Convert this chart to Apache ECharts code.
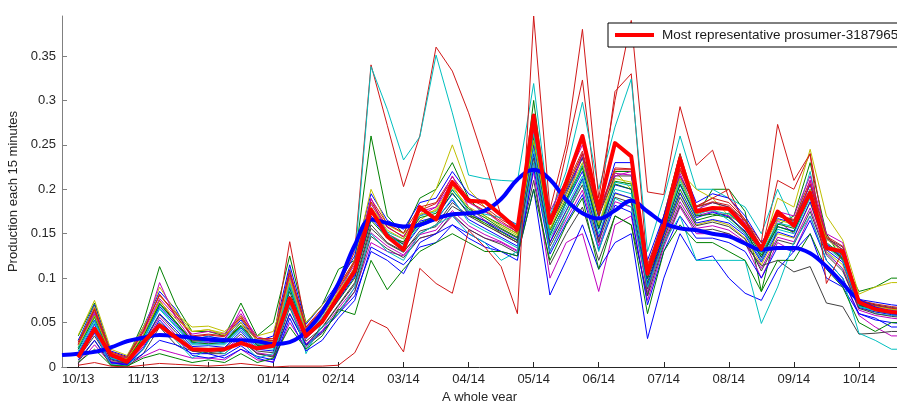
<!DOCTYPE html>
<html>
<head>
<meta charset="utf-8">
<script src="https://cdn.jsdelivr.net/npm/echarts@6/dist/echarts.min.js"></script>
<style>
  html, body { margin: 0; padding: 0; background: #fff; }
  #chart { width: 897px; height: 401px; }
</style>
</head>
<body>
<div id="chart"></div>
<script>
// weekly points, index 1 = 10/13, ticks every 4 points
var monthLabels = ['10/13', '11/13', '12/13', '01/14', '02/14', '03/14', '04/14',
	'05/14', '06/14', '07/14', '08/14', '09/14', '10/14'];
var monthTicks = [1, 5, 9, 13, 17, 21, 25, 29, 33, 37, 41, 45, 49];
var yTicks = [0, 0.05, 0.1, 0.15, 0.2, 0.25, 0.3, 0.35];

var representativeName = 'Most representative prosumer-3187965';

// thick red line, index 1..52
var representative = [
	0.011, 0.043, 0.014, 0.006, 0.028, 0.047, 0.033, 0.020,
	0.019, 0.020, 0.027, 0.021, 0.024, 0.077, 0.035, 0.051,
	0.080, 0.108, 0.177, 0.147, 0.132, 0.180, 0.166, 0.208,
	0.187, 0.186, 0.171, 0.155, 0.283, 0.162, 0.208, 0.260,
	0.178, 0.252, 0.237, 0.105, 0.158, 0.234, 0.175, 0.179,
	0.178, 0.158, 0.133, 0.175, 0.159, 0.196, 0.134, 0.130,
	0.073, 0.065, 0.062, 0.060
];

// thick blue smoothed line, index 0..52
var smoothed = [
	0.0135, 0.015, 0.017, 0.022, 0.029, 0.033, 0.036, 0.035, 0.033, 0.031,
	0.030, 0.030, 0.029, 0.026, 0.028, 0.040, 0.062, 0.094, 0.137, 0.166,
	0.162, 0.158, 0.160, 0.167, 0.172, 0.173, 0.176, 0.189, 0.211, 0.222,
	0.211, 0.188, 0.173, 0.167, 0.176, 0.187, 0.175, 0.162, 0.156, 0.154,
	0.150, 0.147, 0.139, 0.132, 0.134, 0.134, 0.128, 0.113, 0.094, 0.075,
	0.066, 0.062, 0.060
];

// the other prosumers, index 1..52
var p01 = [.035,.072,.015,.010, .050,.113,.070,.040, .040,.035,.072,.035, .050,.125,.050,.070,
	.110,.120,.260,.170, .150,.190,.200,.230, .190,.170,.160,.150, .300,.160,.200,.260,
	.140,.220,.220,.080, .170,.240,.170,.200, .200,.175,.085,.160, .170,.230,.150,.120, .085,.090,.100,.100];
var p02 = [.025,.065,.012,.005, .035,.075,.050,.030, .030,.028,.050,.025, .030,.141,.045,.060,
	.090,.130,.340,.272, .203,.260,.360,.333, .286,.230,.170,.150, .260,.160,.240,.323,
	.170,.310,.330,.110, .170,.240,.180,.190, .200,.160,.130,.210, .200,.240,.140,.120, .075,.070,.065,.063];
var p03 = [.030,.060,.010,.003, .030,.070,.050,.030, .035,.030,.050,.030, .025,.110,.015,.050,
	.080,.120,.338,.290, .233,.259,.351,.286, .216,.212,.210,.209, .319,.170,.220,.298,
	.200,.270,.324,.130, .190,.260,.200,.200, .190,.180,.150,.200, .160,.220,.130,.110, .070,.060,.058,.056];
var p04 = [.030,.070,.018,.012, .045,.085,.065,.032, .034,.032,.053,.029, .035,.115,.048,.070,
	.095,.125,.195,.165, .155,.185,.190,.220, .195,.185,.170,.160, .280,.163,.198,.236,
	.168,.230,.230,.120, .170,.230,.185,.195, .190,.170,.140,.167, .162,.205,.144,.132, .076,.073,.070,.068];
var p05 = [.036,.075,.020,.013, .045,.080,.060,.045, .046,.040,.055,.035, .040,.100,.050,.070,
	.090,.120,.200,.160, .150,.170,.200,.250, .200,.180,.160,.150, .250,.150,.200,.240,
	.160,.220,.200,.100, .160,.220,.200,.190, .170,.160,.130,.190, .180,.245,.170,.143, .082,.090,.095,.095];
var p06 = [.025,.062,.015,.010, .039,.077,.057,.037, .040,.037,.060,.034, .029,.103,.042,.062,
	.087,.115,.183,.157, .147,.175,.180,.208, .185,.175,.162,.152, .266,.175,.210,.250,
	.180,.218,.216,.110, .162,.218,.177,.185, .180,.162,.132,.175, .170,.215,.150,.140, .073,.069,.066,.064];
var p07 = [.028,.066,.017,.011, .042,.081,.061,.035, .037,.035,.057,.032, .032,.109,.045,.066,
	.091,.120,.189,.161, .151,.180,.185,.214, .190,.180,.166,.156, .273,.169,.204,.243,
	.174,.224,.223,.115, .166,.224,.181,.190, .185,.166,.136,.171, .166,.210,.147,.136, .075,.071,.068,.066];
var p08 = [.022,.056,.012,.008, .035,.071,.051,.029, .030,.029,.047,.026, .025,.085,.033,.050,
	.075,.100,.165,.145, .141,.168,.173,.199, .178,.168,.156,.146, .256,.154,.189,.226,
	.159,.209,.206,.095, .150,.200,.165,.170, .173,.156,.126,.161, .156,.198,.140,.126, .070,.066,.063,.061];
var p09 = [.020,.053,.011,.007, .032,.068,.048,.027, .027,.027,.044,.024, .022,.089,.035,.053,
	.078,.104,.170,.148, .138,.164,.169,.195, .174,.164,.153,.143, .250,.150,.185,.220,
	.155,.205,.200,.099, .153,.205,.168,.174, .169,.153,.123,.158, .153,.194,.138,.123, .069,.065,.062,.060];
var p10 = [.018,.050,.010,.006, .030,.065,.045,.025, .025,.025,.042,.022, .020,.094,.038,.056,
	.081,.108,.174,.151, .135,.160,.165,.190, .163,.153,.144,.134, .245,.145,.180,.215,
	.150,.200,.195,.103, .156,.209,.171,.178, .165,.150,.120,.155, .150,.190,.135,.120, .068,.063,.060,.058];
var p11 = [.012,.041,.006,.003, .023,.056,.036,.019, .018,.019,.034,.016, .013,.071,.026,.041,
	.066,.089,.151,.136, .126,.149,.154,.176, .159,.149,.141,.131, .229,.131,.166,.199,
	.136,.186,.180,.084, .141,.186,.156,.159, .154,.141,.111,.146, .141,.179,.128,.111, .064,.058,.055,.053];
var p12 = [.014,.044,.008,.004, .026,.059,.039,.021, .021,.021,.037,.018, .016,.076,.029,.044,
	.069,.093,.156,.139, .129,.153,.158,.181, .170,.160,.150,.140, .235,.136,.171,.205,
	.141,.191,.185,.088, .144,.191,.159,.163, .158,.144,.108,.143, .138,.175,.126,.108, .066,.060,.057,.055];
var p13 = [.004,.025,.004,.002, .012,.020,.015,.010, .010,.008,.020,.008, .006,.050,.022,.040,
	.060,.085,.140,.130, .125,.145,.150,.170, .155,.145,.140,.130, .220,.100,.140,.150,
	.085,.160,.170,.075, .135,.180,.150,.150, .150,.140,.100,.140, .130,.170,.120,.100, .058,.045,.035,.035];
var p14 = [.006,.030,.002,.000, .015,.045,.025,.018, .016,.018,.031,.015, .011,.067,.024,.038,
	.063,.085,.147,.133, .123,.145,.150,.172, .155,.145,.138,.128, .210,.115,.150,.180,
	.120,.170,.160,.080, .138,.182,.153,.155, .150,.138,.114,.120, .107,.113,.072,.068, .037,.038,.040,.040];
var p15 = [.011,.038,.005,.002, .021,.053,.033,.013, .010,.013,.024,.010, .005,.055,.018,.030,
	.055,.075,.135,.125, .115,.135,.140,.160, .145,.135,.130,.120, .224,.127,.162,.194,
	.132,.182,.174,.070, .130,.170,.145,.145, .140,.130,.100,.135, .130,.165,.120,.100, .060,.053,.050,.048];
var p16 = [.008,.030,.005,.003, .015,.030,.025,.015, .015,.010,.020,.012, .008,.060,.025,.040,
	.060,.080,.130,.120, .105,.140,.150,.160, .150,.140,.130,.125, .200,.081,.120,.160,
	.110,.140,.150,.032, .100,.150,.120,.125, .100,.083,.075,.110, .130,.150,.100,.090, .060,.055,.045,.045];
var p17 = [.015,.040,.003,.001, .020,.050,.030,.010, .020,.015,.030,.010, .015,.070,.020,.045,
	.060,.090,.150,.130, .120,.150,.160,.170, .150,.140,.120,.130, .230,.130,.170,.210,
	.130,.190,.180,.090, .140,.170,.120,.120, .120,.120,.049,.090, .140,.170,.120,.100, .038,.030,.020,.020];
var p18 = [.005,.020,.002,.001, .010,.015,.010,.005, .008,.005,.015,.005, .010,.045,.020,.035,
	.065,.059,.120,.087, .110,.130,.140,.150, .140,.130,.130,.125, .200,.120,.160,.190,
	.110,.170,.160,.060, .130,.160,.140,.140, .130,.120,.085,.120, .120,.150,.110,.090, .050,.040,.050,.050];
var p19 = [.002,.005,.001,.000, .002,.004,.003,.002, .001,.002,.004,.002, .000,.001,.001,.001,
	.002,.016,.053,.044, .017,.111,.094,.083, .154,.135,.113,.060, .395,.177,.250,.380,
	.190,.300,.390,.197, .194,.293,.227,.244, .190,.166,.140,.273, .210,.240,.094,.130, .072,.066,.063,.061];
var p20 = [.028,.068,.016,.011, .040,.090,.062,.040, .042,.038,.058,.032, .030,.100,.040,.060,
	.085,.118,.185,.150, .140,.165,.178,.205, .175,.160,.150,.140, .240,.140,.175,.210,
	.145,.195,.190,.090, .145,.195,.160,.165, .160,.145,.115,.150, .145,.185,.130,.115, .066,.062,.060,.058];
var p21 = [.010,.035,.006,.004, .020,.050,.035,.018, .015,.015,.030,.015, .012,.060,.025,.045,
	.070,.095,.160,.140, .130,.150,.160,.185, .170,.165,.155,.145, .255,.160,.195,.235,
	.170,.215,.215,.110, .165,.215,.180,.185, .180,.165,.135,.170, .165,.200,.145,.135, .074,.070,.067,.065];
var p22 = [.025,.060,.014,.008, .036,.095,.055,.030, .028,.030,.065,.028, .028,.095,.036,.055,
	.080,.110,.190,.150, .140,.170,.180,.215, .180,.165,.150,.140, .270,.140,.185,.240,
	.140,.215,.220,.090, .150,.215,.170,.175, .170,.150,.120,.165, .150,.210,.138,.125, .070,.065,.062,.060];
var p23 = [.016,.048,.009,.005, .028,.060,.042,.023, .024,.022,.040,.020, .018,.080,.032,.050,
	.076,.102,.168,.146, .134,.158,.166,.188, .166,.156,.146,.136, .240,.140,.176,.212,
	.146,.196,.190,.092, .148,.196,.162,.166, .162,.148,.118,.152, .146,.186,.132,.118, .067,.062,.059,.057];
var p24 = [.020,.058,.012,.008, .034,.072,.050,.028, .026,.028,.046,.024, .024,.090,.036,.054,
	.082,.112,.178,.150, .138,.162,.170,.196, .172,.162,.152,.142, .258,.148,.186,.224,
	.156,.206,.200,.100, .154,.206,.170,.172, .168,.152,.124,.158, .152,.192,.136,.122, .069,.064,.061,.059];
var p25 = [.022,.052,.010,.006, .032,.066,.046,.026, .030,.026,.045,.026, .022,.092,.036,.052,
	.078,.106,.176,.152, .144,.170,.175,.200, .176,.172,.168,.160, .262,.150,.184,.228,
	.160,.208,.204,.104, .158,.212,.174,.176, .172,.158,.128,.162, .158,.196,.140,.124, .068,.064,.061,.059];
var p26 = [.026,.064,.014,.009, .040,.082,.058,.034, .036,.034,.055,.030, .030,.106,.044,.064,
	.088,.118,.186,.158, .146,.176,.184,.210, .186,.176,.164,.152, .268,.164,.200,.240,
	.170,.222,.222,.112, .164,.222,.180,.186, .182,.164,.134,.170, .164,.206,.146,.132, .073,.069,.066,.064];
var p27 = [.024,.058,.013,.009, .036,.074,.054,.040, .042,.036,.050,.030, .028,.098,.040,.058,
	.084,.112,.180,.154, .144,.172,.176,.202, .180,.170,.158,.148, .255,.156,.192,.230,
	.160,.212,.208,.106, .160,.212,.172,.180, .176,.160,.130,.166, .160,.200,.144,.130, .072,.068,.065,.063];

var prosumers = [p01, p02, p03, p04, p05, p20, p06, p21, p07, p22, p08, p23, p09, p24,
	p10, p25, p11, p26, p12, p27, p13, p14, p15, p16, p17, p18, p19];
var prosumerColors = ['#008000', '#d01818', '#00bfbf', '#0000ff', '#bfbf00', '#bfbf00', '#bf00bf',
	'#404040', '#d01818', '#bf00bf', '#008000', '#0000ff', '#0000ff', '#008000',
	'#00bfbf', '#00bfbf', '#bf00bf', '#d01818', '#404040', '#bfbf00', '#bf00bf', '#404040',
	'#0000ff', '#0000ff', '#00bfbf', '#008000', '#d01818'];

var fontFamily = "'Liberation Sans', Arial, sans-serif";
var myChart = echarts.init(document.getElementById('chart'), null, { renderer: 'canvas' });

var series = [];
prosumers.forEach(function (arr, k) {
	series.push({
		name: 'prosumer' + (k + 1),
		type: 'line',
		data: arr.map(function (v, i) { return [i + 1, v]; }),
		symbol: 'none',
		silent: true,
		lineStyle: { color: prosumerColors[k], width: 1 },
		itemStyle: { color: prosumerColors[k] },
		z: 2
	});
});

series.push({
	name: 'smoothed',
	type: 'line',
	data: smoothed.map(function (v, i) { return [i, v]; }),
	smooth: 0.4,
	symbol: 'none',
	silent: true,
	lineStyle: { color: '#0000ff', width: 4 },
	itemStyle: { color: '#0000ff' },
	z: 3
});

series.push({
	name: representativeName,
	type: 'line',
	data: representative.map(function (v, i) { return [i + 1, v]; }),
	symbol: 'none',
	silent: true,
	lineStyle: { color: '#ff0000', width: 4, join: 'round' },
	itemStyle: { color: '#ff0000' },
	z: 4
});

var option = {
	animation: false,
	backgroundColor: '#fff',
	textStyle: { fontFamily: fontFamily },
	grid: {
		left: 62,
		right: 0,
		top: 16,
		bottom: 34,
		outerBoundsMode: 'none'
	},
	legend: {
		data: [{ name: representativeName, icon: 'rect' }],
		left: 608,
		top: 23,
		padding: [5, 8, 5, 7],
		itemWidth: 39,
		itemHeight: 4,
		itemGap: 0,
		borderColor: '#000',
		borderWidth: 1,
		backgroundColor: '#fff',
		selectedMode: false,
		textStyle: { fontFamily: fontFamily, fontSize: 13.5, color: '#1a1a1a', padding: [0, 0, 0, 3] },
		z: 10
	},
	xAxis: {
		type: 'value',
		min: 0,
		max: 51.34,
		name: 'A whole year',
		nameLocation: 'middle',
		nameGap: 21,
		nameTextStyle: { fontFamily: fontFamily, fontSize: 13, color: '#262626' },
		splitLine: { show: false },
		axisLine: { lineStyle: { color: '#262626', width: 1 } },
		axisTick: { inside: true, length: 5, customValues: monthTicks, lineStyle: { color: '#262626' } },
		axisLabel: {
			customValues: monthTicks,
			margin: 6,
			fontFamily: fontFamily,
			fontSize: 13,
			color: '#262626',
			formatter: function (v) {
				return monthLabels[Math.round((v - 1) / 4)];
			}
		}
	},
	yAxis: {
		type: 'value',
		min: 0,
		max: 0.395,
		name: 'Production each 15 minutes',
		nameLocation: 'middle',
		nameGap: 38,
		nameTextStyle: { fontFamily: fontFamily, fontSize: 13, color: '#262626' },
		splitLine: { show: false },
		axisLine: { show: true, lineStyle: { color: '#808080', width: 1 } },
		axisTick: { show: true, inside: true, length: 5, customValues: yTicks, lineStyle: { color: '#808080' } },
		axisLabel: {
			customValues: yTicks,
			margin: 6,
			fontFamily: fontFamily,
			fontSize: 13,
			color: '#262626',
			formatter: function (v) {
				return v === 0 ? '0' : String(+v.toFixed(2));
			}
		}
	},
	series: series
};

myChart.setOption(option);
</script>
</body>
</html>
